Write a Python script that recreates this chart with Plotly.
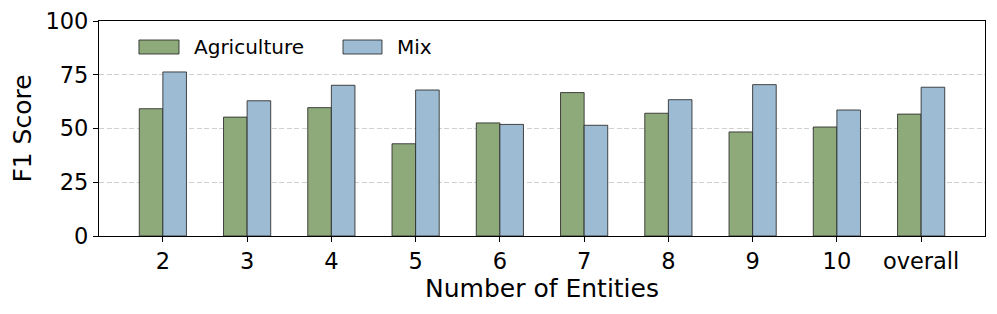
import plotly.graph_objects as go

categories = ["2", "3", "4", "5", "6", "7", "8", "9", "10", "overall"]
agriculture = [59.2, 55.3, 59.7, 42.9, 52.6, 66.7, 57.1, 48.4, 50.7, 56.7]
mix = [76.3, 62.9, 70.1, 67.9, 51.9, 51.5, 63.4, 70.4, 58.6, 69.2]
series_names = ["Agriculture", "Mix"]
y_ticks = [0, 25, 50, 75, 100]

FONT = "DejaVu Sans"
GREEN = "#8FAA7A"
BLUE = "#9DBBD2"
EDGE = "rgba(40,40,40,0.85)"
edge = dict(color=EDGE, width=1)

fig = go.Figure()
fig.add_trace(go.Bar(x=categories, y=agriculture, name=series_names[0],
                     marker=dict(color=GREEN, line=edge),
                     width=0.28, offset=-0.28))
fig.add_trace(go.Bar(x=categories, y=mix, name=series_names[1],
                     marker=dict(color=BLUE, line=edge),
                     width=0.28, offset=0))

# legend drawn as patches + labels (matplotlib-style)
legend_items = [(series_names[0], GREEN, 0.0451, 0.0903, 0.1050),
                (series_names[1], BLUE, 0.2754, 0.3194, 0.3341)]
for name, col, x0, x1, tx in legend_items:
    fig.add_shape(type="rect", xref="paper", yref="paper",
                  x0=x0, x1=x1, y0=0.8465, y1=0.9116,
                  fillcolor=col, line=dict(color=EDGE, width=1))
    fig.add_annotation(text=name, xref="paper", yref="paper", x=tx, y=0.879,
                       xanchor="left", yanchor="middle", showarrow=False,
                       font=dict(size=20, family=FONT, color="black"))

# page body has an 8px default margin; shift plot margins to compensate
fig.update_layout(
    width=997, height=314,
    margin=dict(l=91, r=20, t=13, b=86),
    plot_bgcolor="white", paper_bgcolor="white",
    font=dict(family=FONT, color="black"),
    barmode="overlay",
    showlegend=False,
    xaxis=dict(type="category", range=[-0.758, 9.758], automargin=False,
               showline=True, linecolor="black", linewidth=1.2, mirror=True,
               ticks="outside", ticklen=5, tickwidth=1.2, tickcolor="black",
               tickfont=dict(size=22.5, family=FONT),
               title=dict(text="Number of Entities", font=dict(size=25, family=FONT), standoff=4),
               showgrid=False),
    yaxis=dict(range=[0, 100], tickvals=y_ticks, automargin=False,
               ticklabeloverflow="allow",
               showline=True, linecolor="black", linewidth=1.2, mirror=True,
               ticks="outside", ticklen=5, tickwidth=1.2, tickcolor="black",
               tickfont=dict(size=22.5, family=FONT),
               title=dict(text="F1 Score", font=dict(size=25, family=FONT), standoff=20),
               showgrid=True, gridcolor="#d0d0d0", griddash="5px,2.5px", gridwidth=1,
               zeroline=False),
)

fig.write_html("out.html")
